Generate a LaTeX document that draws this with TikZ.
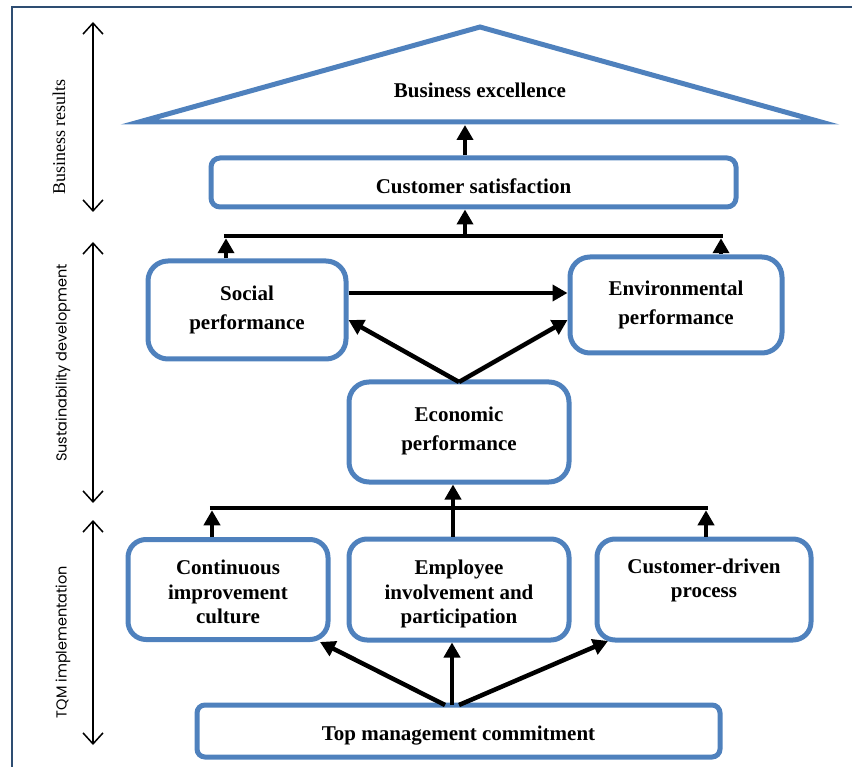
\documentclass[tikz,border=0pt]{standalone}
\usepackage{fontspec}
\setmainfont{Liberation Serif}
\newfontfamily\gothic{Poppins}
\usetikzlibrary{arrows.meta,calc}
\definecolor{boxblue}{HTML}{4F81BD}
\definecolor{frameblue}{HTML}{2E4D72}
\begin{document}
\begin{tikzpicture}[x=1pt,y=-1pt,
  box/.style={draw=boxblue,line width=5pt,rounded corners=#1,inner sep=0pt},
  box/.default=16pt,
  txt/.style={align=center,inner sep=0pt,font=\fontsize{21}{24.5}\selectfont\bfseries},
  txtwide/.style={align=center,inner sep=0pt,font=\fontsize{21}{29}\selectfont\bfseries},
  arr/.style={line width=4.5pt,-{Triangle[length=15pt,width=16pt]}},
  link/.style={line width=4.5pt},
  dbl/.style={line width=1.5pt,{Straight Barb[length=11pt,width=20pt]}-{Straight Barb[length=11pt,width=20pt]}},
  sidelabel/.style={rotate=90,inner sep=0pt}]
\useasboundingbox (0,0) rectangle (852,767);
% outer frame
\draw[frameblue,line width=2.5pt] (12,780) -- (12,7) -- (870,7);
% side arrows and labels
\coordinate (br1) at (93,22);   \coordinate (br2) at (93,212);
\coordinate (sd1) at (93,242);  \coordinate (sd2) at (93,503);
\coordinate (tq1) at (93,520);  \coordinate (tq2) at (93,745);
\draw[dbl] (br1) -- (br2);
\draw[dbl] (sd1) -- (sd2);
\draw[dbl] (tq1) -- (tq2);
\node[sidelabel,font=\fontsize{18}{20}\selectfont] (lbr) at (59,137) {Business results};
\node[sidelabel,font=\gothic\fontsize{14.5}{16}\selectfont] (lsd) at (63,363) {Sustainability development};
\node[sidelabel,font=\gothic\fontsize{14.5}{16}\selectfont] (ltq) at (63,642) {TQM implementation};
% triangle
\draw[boxblue,line width=5pt,line join=miter] (139,122) -- (480,27) -- (821,122) -- cycle;
\node[txt] (be) at (480,90) {Business excellence};
% boxes
\node[box=9pt,minimum width=525pt,minimum height=49pt] (cs) at (473.5,182.5) {};
\node[box=20pt,minimum width=198pt,minimum height=98pt] (soc) at (247,310) {};
\node[box=20pt,minimum width=212pt,minimum height=96pt] (env) at (676,305) {};
\node[box=20pt,minimum width=220pt,minimum height=100pt] (eco) at (459,432) {};
\node[box=18pt,minimum width=200pt,minimum height=100pt] (cont) at (228,589.5) {};
\node[box=18pt,minimum width=220pt,minimum height=101pt] (emp) at (459,589.5) {};
\node[box=18pt,minimum width=214pt,minimum height=101pt] (cdp) at (704,589.5) {};
\node[box=8pt,minimum width=523pt,minimum height=52pt] (tm) at (458.5,731) {};
% box texts
\node[txt] (cs-t) at (473.5,186.5) {Customer satisfaction};
\node[txtwide] (soc-t) at (247,310) {Social\\performance};
\node[txtwide] (env-t) at (676,305) {Environmental\\performance};
\node[txtwide] (eco-t) at (459,431) {Economic\\performance};
\node[txt] (cont-t) at (228,592) {Continuous\\improvement\\culture};
\node[txt] (emp-t) at (459,594) {Employee\\involvement and\\participation};
\node[txt] (cdp-t) at (704,580.5) {Customer-driven\\process};
\node[txt] (tm-t) at (458.5,736) {Top management commitment};
% connectors: top
\coordinate (tribase) at (465,125);
\draw[arr] (cs.north -| tribase) -- (tribase);
\coordinate (barL) at (226,236);
\coordinate (barR) at (721,236);
\coordinate (barM) at (465,236);
\draw[link] ($(barL)+(-2.25,0)$) -- ($(barR)+(2.25,0)$);
\draw[arr] (barM) -- (cs.south -| barM);
\draw[arr] (soc.north -| barL) -- ($(barL)+(0,2.25)$);
\draw[arr] (env.north -| barR) -- ($(barR)+(0,2.25)$);
% middle
\coordinate (hz) at (0,293);
\draw[arr] (soc.east |- hz) -- (env.west |- hz);
\coordinate (ecotop) at (459,382);
\coordinate (dg) at (0,320);
\draw[arr] (ecotop) -- (soc.east |- dg);
\draw[arr] (ecotop) -- (env.west |- dg);
% lower bar
\coordinate (lbL) at (212,508);
\coordinate (lbR) at (706,508);
\coordinate (lbM) at (453,508);
\draw[link] ($(lbL)+(-2.25,0)$) -- ($(lbR)+(2.25,0)$);
\draw[arr] (emp.north -| lbM) -- (eco.south -| lbM);
\draw[arr] (cont.north -| lbL) -- ($(lbL)+(0,2.25)$);
\draw[arr] (cdp.north -| lbR) -- ($(lbR)+(0,2.25)$);
% bottom
\coordinate (tmA) at (445,705);
\coordinate (tmB) at (452,705);
\coordinate (tmC) at (459,705);
\coordinate (tipA) at (320,642);
\coordinate (tipC) at (608,641);
\draw[arr] (tmA) -- (tipA);
\draw[arr] (tmB) -- (emp.south -| tmB);
\draw[arr] (tmC) -- (tipC);
\end{tikzpicture}
\end{document}
